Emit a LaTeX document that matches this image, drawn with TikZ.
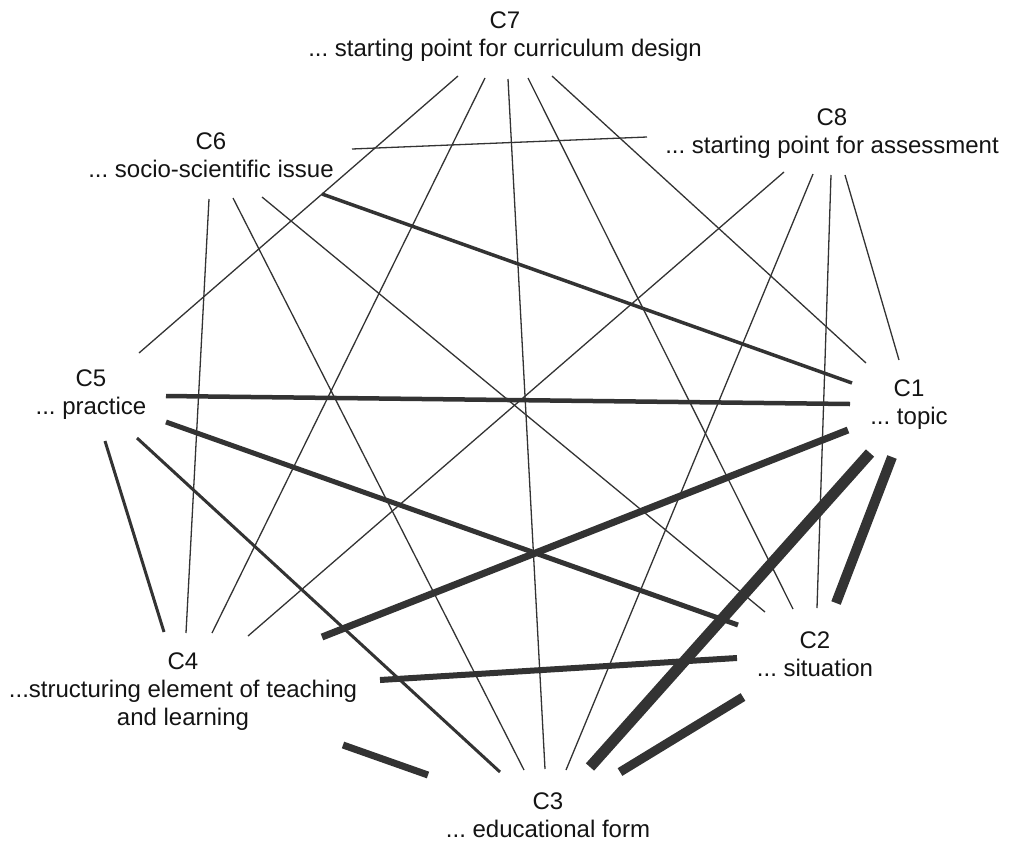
\documentclass[tikz,border=0pt]{standalone}
\usepackage{fontspec}
\setmainfont{Liberation Sans}
\frenchspacing
\begin{document}
\begin{tikzpicture}[x=1pt,y=-1pt,
  lab/.style={align=center, font=\fontsize{24}{28}\selectfont\frenchspacing, inner sep=0pt, text=black!92},
  link/.style={draw=black!80, line cap=butt, line width=1.3pt},
]
\useasboundingbox (0,0) rectangle (1009,841);

% labels
\node[lab] (c7) at (505,36.5) {C7\\... starting point for curriculum design};
\node[lab] (c8) at (832,133.5) {C8\\... starting point for assessment};
\node[lab] (c6) at (211,155.5) {C6\\... socio-scientific issue};
\node[lab] (c5) at (91,394.5) {C5\\... practice};
\node[lab] (c1) at (909,405) {C1\\... topic};
\node[lab] (c4) at (183,692) {C4\\...structuring element of teaching\\and learning};
\node[lab] (c2) at (815,654) {C2\\... situation};
\node[lab] (c3) at (548,815) {C3\\... educational form};

% connector end points
\coordinate (a75) at (458,76);  \coordinate (b75) at (139,353);
\coordinate (a74) at (485,78);  \coordinate (b74) at (212,633);
\coordinate (a73) at (508,79);  \coordinate (b73) at (545,769);
\coordinate (a72) at (528,78);  \coordinate (b72) at (793,609);
\coordinate (a71) at (552,76);  \coordinate (b71) at (866,363);
\coordinate (a86) at (647,137); \coordinate (b86) at (352,149);
\coordinate (a84) at (784,172); \coordinate (b84) at (248,636);
\coordinate (a83) at (813,174); \coordinate (b83) at (566,770);
\coordinate (a82) at (831,175); \coordinate (b82) at (817,608);
\coordinate (a81) at (845,175); \coordinate (b81) at (899,360);
\coordinate (a64) at (209,199); \coordinate (b64) at (186,633);
\coordinate (a63) at (233,198); \coordinate (b63) at (524,770);
\coordinate (a62) at (262,197); \coordinate (b62) at (765,612);
\coordinate (a61) at (322,194); \coordinate (b61) at (852,383);
\coordinate (a51) at (166,396); \coordinate (b51) at (850,404);
\coordinate (a52) at (166,422); \coordinate (b52) at (738,625);
\coordinate (a53) at (137,438); \coordinate (b53) at (500,772);
\coordinate (a54) at (105,441); \coordinate (b54) at (164,632);
\coordinate (a41) at (322,637); \coordinate (b41) at (848,430);
\coordinate (a42) at (380,680); \coordinate (b42) at (737,658);
\coordinate (a43) at (343,745); \coordinate (b43) at (428,775);
\coordinate (a13) at (870,453); \coordinate (b13) at (590,767);
\coordinate (a12) at (892,457); \coordinate (b12) at (836,603);
\coordinate (a23) at (743,697); \coordinate (b23) at (620,772);

% thin connectors
\draw[link] (a75) -- (b75);
\draw[link] (a74) -- (b74);
\draw[link] (a73) -- (b73);
\draw[link] (a72) -- (b72);
\draw[link] (a71) -- (b71);
\draw[link] (a86) -- (b86);
\draw[link] (a84) -- (b84);
\draw[link] (a83) -- (b83);
\draw[link] (a82) -- (b82);
\draw[link] (a81) -- (b81);
\draw[link] (a64) -- (b64);
\draw[link] (a63) -- (b63);
\draw[link] (a62) -- (b62);
% weighted connectors
\draw[link, line width=3.5pt] (a61) -- (b61);
\draw[link, line width=4.5pt] (a51) -- (b51);
\draw[link, line width=5pt] (a52) -- (b52);
\draw[link, line width=3pt] (a53) -- (b53);
\draw[link, line width=3pt] (a54) -- (b54);
\draw[link, line width=7pt] (a41) -- (b41);
\draw[link, line width=6pt] (a42) -- (b42);
\draw[link, line width=7pt] (a43) -- (b43);
\draw[link, line width=11pt] (a13) -- (b13);
\draw[link, line width=10pt] (a12) -- (b12);
\draw[link, line width=9pt] (a23) -- (b23);
\end{tikzpicture}
\end{document}
